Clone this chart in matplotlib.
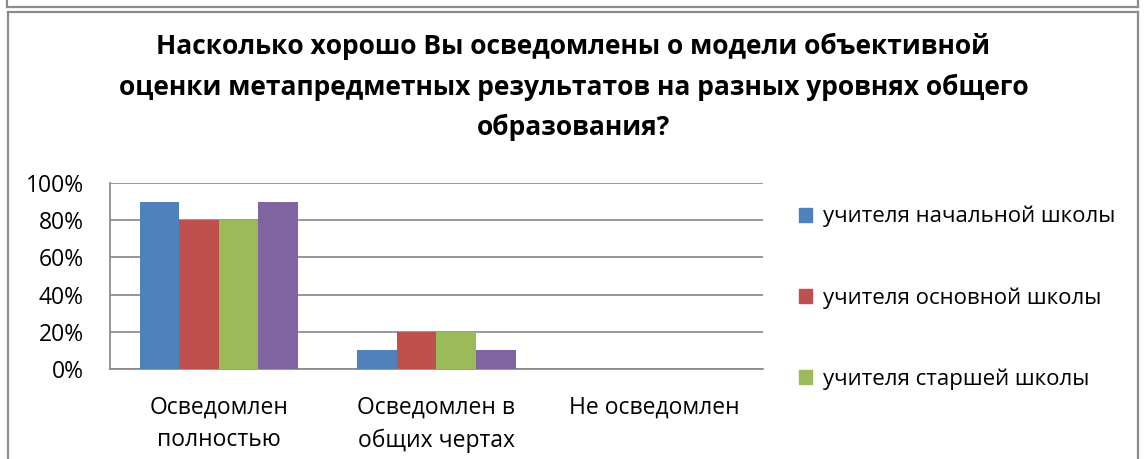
import matplotlib
matplotlib.use("Agg")
import matplotlib.pyplot as plt
import matplotlib.patches as mpatches
from matplotlib.lines import Line2D
import numpy as np

categories = ["Осведомлен\nполностью", "Осведомлен в\nобщих чертах", "Не осведомлен"]
primary = [0.9, 0.1, 0.0]
basic = [0.8, 0.2, 0.0]
senior = [0.8, 0.2, 0.0]
fourth = [0.9, 0.1, 0.0]
legend_labels = ["учителя начальной школы", "учителя основной школы", "учителя старшей школы"]
y_ticks = [0, 0.2, 0.4, 0.6, 0.8, 1.0]
title = ("Насколько хорошо Вы осведомлены о модели объективной\n"
         "оценки метапредметных результатов на разных уровнях общего\n"
         "образования?")

COLORS = ["#4F81BD", "#C0504D", "#9BBB59", "#8064A2"]
FONT = "Open Sans"

plt.rcParams["font.family"] = [FONT, "DejaVu Sans"]

W, H = 1147, 459
fig = plt.figure(figsize=(W / 100, H / 100), dpi=100)

# frame lines of the surrounding boxes (pixel coords)
def hline(y, x0, x1):
    fig.add_artist(Line2D([x0 / W, x1 / W], [1 - y / H, 1 - y / H], color="#8c8c8c", lw=1.6))

def vline(x, y0, y1):
    fig.add_artist(Line2D([x / W, x / W], [1 - y0 / H, 1 - y1 / H], color="#8c8c8c", lw=1.6))

vline(7, 0, 7)
hline(7, 7, 1138)
vline(1138, 0, 7)
hline(12, 8, 1138)
vline(8, 12, H)
vline(1138, 12, H)

ax = fig.add_axes([110 / W, 1 - 369 / H, (763 - 110) / W, (369 - 183) / H])

series = [primary, basic, senior, fourth]
x = np.arange(len(categories))
bw = 0.727 / 4
for i, vals in enumerate(series):
    ax.bar(x - 0.727 / 2 + bw * (i + 0.5), vals, width=bw, color=COLORS[i], zorder=3)

ax.set_xlim(-0.5, len(categories) - 0.5)
ax.set_ylim(0, 1.0)
ax.set_yticks(y_ticks)
ax.set_yticklabels([f"{int(round(v * 100))}%" for v in y_ticks], fontsize=16.5)
ax.yaxis.grid(True, color="#868686", lw=1.2, zorder=0)
ax.tick_params(axis="y", length=0, pad=19)
ax.tick_params(axis="x", length=0, pad=19)
ax.set_xticks(x)
ax.set_xticklabels(categories, fontsize=16.5, linespacing=1.5, va="top")
for s in ["top", "right"]:
    ax.spines[s].set_visible(False)
for s in ["left", "bottom"]:
    ax.spines[s].set_color("#868686")
    ax.spines[s].set_linewidth(1.2)

fig.text(0.5, 1 - 33 / H, title, ha="center", va="top", fontsize=19,
         fontweight="bold", linespacing=1.62)

handles = [mpatches.Patch(color=COLORS[i], label=legend_labels[i]) for i in range(3)]
fig.legend(handles=handles, loc="upper left", bbox_to_anchor=(779 / W, 1 - 186 / H),
           frameon=False, fontsize=16, handlelength=0.6, handleheight=0.6,
           handletextpad=0.5, labelspacing=2.68)

fig.savefig("out.png", dpi=100)
